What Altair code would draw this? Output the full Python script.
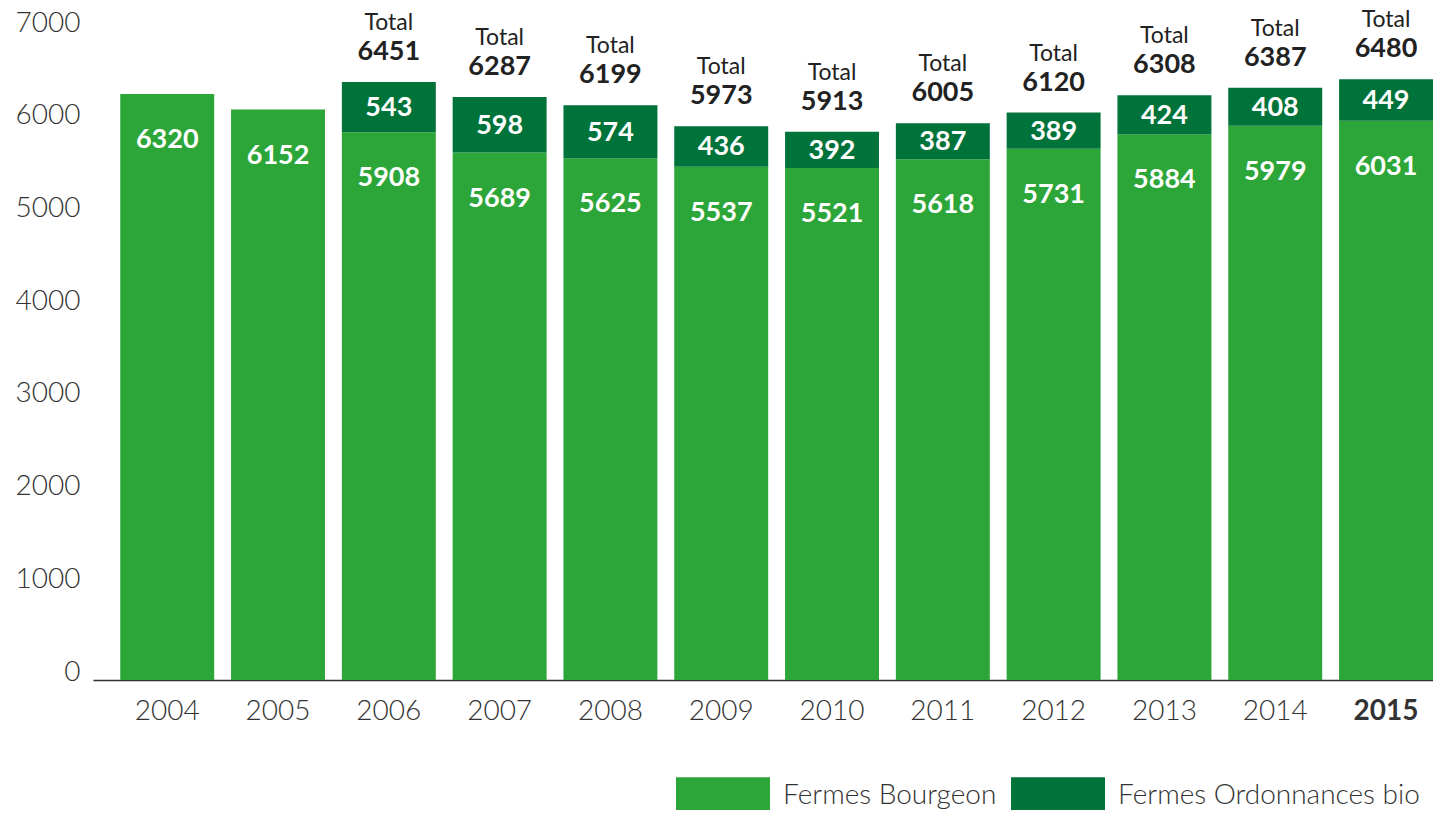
import altair as alt
import pandas as pd

years = ["2004", "2005", "2006", "2007", "2008", "2009", "2010", "2011", "2012", "2013", "2014", "2015"]
bourgeon = [6320, 6152, 5908, 5689, 5625, 5537, 5521, 5618, 5731, 5884, 5979, 6031]
ordonnances = [None, None, 543, 598, 574, 436, 392, 387, 389, 424, 408, 449]
totals = [None, None, 6451, 6287, 6199, 5973, 5913, 6005, 6120, 6308, 6387, 6480]

series = ["Fermes Bourgeon", "Fermes Ordonnances bio"]
colors = ["#2DA639", "#00733A"]

rows = []
for i, y in enumerate(years):
    rows.append({"year": y, "serie": series[0], "value": bourgeon[i], "order": 0})
    if ordonnances[i] is not None:
        rows.append({"year": y, "serie": series[1], "value": ordonnances[i], "order": 1})
long_df = pd.DataFrame(rows)

wide_df = pd.DataFrame({"year": years, "bourgeon": bourgeon,
                        "ordonnances": ordonnances, "total": totals})

FONT = "Lato"

x_enc = alt.X("year:N", sort=years, title=None,
              scale=alt.Scale(paddingInner=0.152, paddingOuter=0.123, align=1),
              axis=alt.Axis(labelFontSize=28, labelFont=FONT, labelColor="#333333",
                            labelAngle=0, ticks=False, labelPadding=17,
                            domainColor="#333333", domainWidth=1.5,
                            labelFontWeight={"condition": {"test": "datum.value == '2015'", "value": "bold"},
                                             "value": 300}))

bars = alt.Chart(long_df).mark_bar().encode(
    x=x_enc,
    y=alt.Y("value:Q", stack="zero", title=None,
            scale=alt.Scale(domain=[0, 7000], nice=False),
            axis=alt.Axis(values=[0, 1000, 2000, 3000, 4000, 5000, 6000, 7000], format="d",
                          labelFontSize=28, labelFont=FONT, labelColor="#333333",
                          labelFontWeight=300,
                          domain=False, ticks=False, grid=False, labelPadding=13,
                          labelOffset=-8)),
    color=alt.Color("serie:N", scale=alt.Scale(domain=series, range=colors),
                    legend=alt.Legend(title=None, orient="none", legendX=583, legendY=718,
                                      direction="horizontal",
                                      symbolType="M-1,-0.4L1,-0.4L1,0.4L-1,0.4Z",
                                      symbolSize=8836, symbolStrokeWidth=0, symbolOpacity=1,
                                      labelFontSize=28, labelFont=FONT, labelColor="#333333",
                                      labelFontWeight=300, labelLimit=400,
                                      labelOffset=13, columnPadding=14, padding=0)),
    order=alt.Order("order:Q"),
)

base = alt.Chart(wide_df).encode(x=alt.X("year:N", sort=years))

bg_labels = base.mark_text(color="white", fontWeight="bold", fontSize=27, font=FONT,
                           baseline="middle", dy=46).encode(
    y=alt.Y("bourgeon:Q"), text=alt.Text("bourgeon:Q"))

ord_labels = base.transform_filter("datum.ordonnances != null").transform_calculate(
    mid="datum.bourgeon + datum.ordonnances / 2").mark_text(
    color="white", fontWeight="bold", fontSize=27, font=FONT, baseline="middle", dy=1).encode(
    y=alt.Y("mid:Q"), text=alt.Text("ordonnances:Q"))

tot_labels = base.transform_filter("datum.total != null").mark_text(
    color="#222222", fontWeight="bold", fontSize=27, font=FONT, baseline="middle", dy=-30).encode(
    y=alt.Y("total:Q"), text=alt.value(None) if False else alt.Text("total:Q"))

tot_word = base.transform_filter("datum.total != null").mark_text(
    color="#222222", fontSize=23, font=FONT, baseline="middle", dy=-59).encode(
    y=alt.Y("total:Q"), text=alt.value("Total"))

chart = alt.layer(bars, bg_labels, ord_labels, tot_labels, tot_word).properties(
    width=1340, height=649, autosize="none",
    padding={"left": 85, "top": 23, "right": 0, "bottom": 130},
).configure_view(stroke=None)

chart.save("out.html", embed_options={"renderer": "svg", "actions": False})
